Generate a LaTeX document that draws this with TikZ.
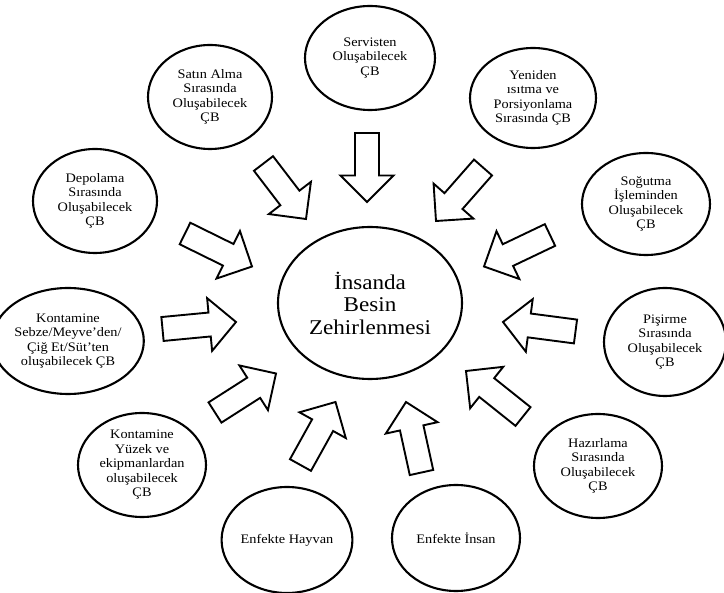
\documentclass[tikz,border=0pt]{standalone}
\usepackage{fontspec}
\setmainfont{Liberation Serif}[FakeStretch=1.1]
\usetikzlibrary{shapes.geometric,calc}
\tikzset{
  bubble/.style={ellipse,draw,line width=2.1pt,inner sep=0pt,align=center,
    font=\fontsize{13}{14.5}\selectfont},
  mainbubble/.style={bubble,font=\fontsize{21}{22.5}\selectfont},
  blockarr/.style={draw,line width=1.9pt,line join=miter,fill=white}
}
\newcommand\blockarrow[2]{%
  \path ($(#2)!26.5pt!(#1)$) coordinate (hb);
  \draw[blockarr] ($(#1)!12pt!90:(#2)$) -- ($(hb)!12pt!90:(#2)$) -- ($(hb)!26.5pt!90:(#2)$) -- (#2)
    -- ($(hb)!26.5pt!-90:(#2)$) -- ($(hb)!12pt!-90:(#2)$) -- ($(#1)!12pt!-90:(#2)$) -- cycle;
}
\begin{document}
\begin{tikzpicture}[x=1pt,y=-1pt]
\useasboundingbox (0,0) rectangle (724,593);
\fill[white] (0,0) rectangle (724,593);

\node[mainbubble,minimum width=184pt,minimum height=152pt] (center) at (370,303) {İnsanda\\Besin\\Zehirlenmesi};

\node[bubble,minimum width=130pt,minimum height=104pt] (serv) at (370,58) {Servisten\\Oluşabilecek\\ÇB};
\node[bubble,minimum width=124pt,minimum height=104pt] (satin) at (210,97) {Satın Alma\\Sırasında\\Oluşabilecek\\ÇB};
\node[bubble,minimum width=126pt,minimum height=100pt] (yeni) at (533,98) {Yeniden\\ısıtma ve\\Porsiyonlama\\Sırasında ÇB};
\node[bubble,minimum width=124pt,minimum height=104pt] (depo) at (95,201) {Depolama\\Sırasında\\Oluşabilecek\\ÇB};
\node[bubble,minimum width=128pt,minimum height=102pt] (sogut) at (646,204) {Soğutma\\İşleminden\\Oluşabilecek\\ÇB};
\node[bubble,minimum width=134pt,minimum height=106pt] (sebze) at (68,341) {Kontamine\\Sebze/Meyve’den/\\Çiğ Et/Süt’ten\\oluşabilecek ÇB};
\node[bubble,minimum width=122pt,minimum height=108pt] (pisir) at (665,342) {Pişirme\\Sırasında\\Oluşabilecek\\ÇB};
\node[bubble,minimum width=128pt,minimum height=104pt] (yuzey) at (142,465) {Kontamine\\Yüzek ve\\ekipmanlardan\\oluşabilecek\\ÇB};
\node[bubble,minimum width=128pt,minimum height=104pt] (hazir) at (598,466) {Hazırlama\\Sırasında\\Oluşabilecek\\ÇB};
\node[bubble,minimum width=128pt,minimum height=106pt] (hayvan) at (287,540) {Enfekte Hayvan};
\node[bubble,minimum width=128pt,minimum height=106pt] (insan) at (456,538) {Enfekte İnsan};

\coordinate (t1) at (367,133);   \coordinate (p1) at (367,202);
\coordinate (t2) at (263.5,163.5); \coordinate (p2) at (306,219);
\coordinate (t3) at (483,167.5); \coordinate (p3) at (436,221);
\coordinate (t4) at (185,233.5); \coordinate (p4) at (252,266.5);
\coordinate (t5) at (162.5,329); \coordinate (p5) at (236,322);
\coordinate (t6) at (550,235);   \coordinate (p6) at (484,266.5);
\coordinate (t7) at (575.5,331.5); \coordinate (p7) at (503,322);
\coordinate (t8) at (523,416.5); \coordinate (p8) at (466,371);
\coordinate (t9) at (421.5,472.5); \coordinate (p9) at (406,402);
\coordinate (t10) at (300.5,465); \coordinate (p10) at (335.5,402);
\coordinate (t11) at (215,412.5); \coordinate (p11) at (276,373.5);

\foreach \i in {1,...,11}{\blockarrow{t\i}{p\i}}
\end{tikzpicture}
\end{document}
